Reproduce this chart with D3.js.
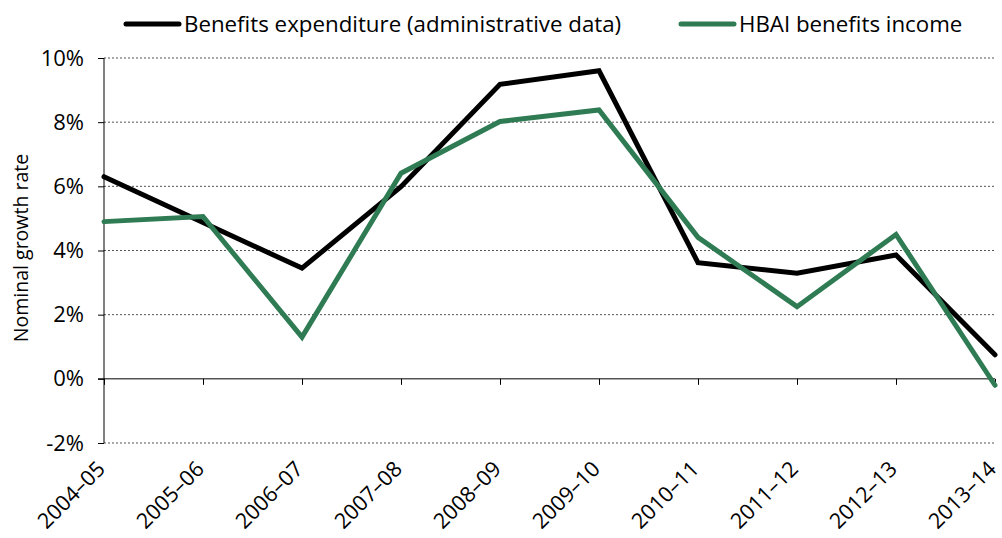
<!DOCTYPE html>
<html>
<head>
<meta charset="utf-8">
<script src="https://cdn.jsdelivr.net/npm/d3@7"></script>
<style>
  html, body { margin: 0; padding: 0; background: #fff; }
  svg { display: block; font-family: "Open Sans", "Noto Sans", sans-serif; }
</style>
</head>
<body>
<svg id="chart" width="1002" height="538"></svg>
<script>
// Financial years on the horizontal axis
const years = ["2004–05", "2005–06", "2006–07", "2007–08", "2008–09",
               "2009–10", "2010–11", "2011–12", "2012–13", "2013–14"];

// Nominal growth rates, per cent
const adminExpenditure = [6.3, 4.87, 3.45, 5.99, 9.18, 9.6, 3.62, 3.29, 3.86, 0.75];
const hbaiIncome       = [4.9, 5.06, 1.3, 6.41, 8.02, 8.38, 4.41, 2.25, 4.5, -0.2];

const seriesNames = ["Benefits expenditure (administrative data)", "HBAI benefits income"];
const seriesColors = ["#000000", "#2f7b53"];

const yTicks = [-2, 0, 2, 4, 6, 8, 10];
const yTitle = "Nominal growth rate";

const svg = d3.select("#chart");
const margin = { left: 104, right: 995, top: 58, bottom: 443 };

const x = d3.scalePoint().domain(years).range([margin.left, margin.right]);
const y = d3.scaleLinear().domain([-2, 10]).range([margin.bottom, margin.top]);

// Horizontal dotted gridlines
svg.append("g")
  .selectAll("line")
  .data(yTicks.filter(d => d !== 0))
  .join("line")
  .attr("x1", margin.left)
  .attr("x2", margin.right)
  .attr("y1", d => y(d))
  .attr("y2", d => y(d))
  .attr("stroke", "#555")
  .attr("stroke-width", 1)
  .attr("stroke-dasharray", "2,2");

// Y axis
const yAxis = svg.append("g")
  .attr("transform", `translate(${margin.left},0)`)
  .call(d3.axisLeft(y).tickValues(yTicks).tickSize(6).tickPadding(14)
    .tickFormat(d => d + "%"));
yAxis.select(".domain").attr("stroke", "#000").attr("d", `M0,${y(10)}V${y(-2)}`);
yAxis.selectAll(".tick line").attr("stroke", "#000");
yAxis.selectAll(".tick text")
  .attr("font-size", 22)
  .attr("fill", "#000")
  .attr("font-family", "'Open Sans', sans-serif");

// X axis along zero
const xAxis = svg.append("g")
  .attr("transform", `translate(0,${y(0)})`)
  .call(d3.axisBottom(x).tickSize(6).tickSizeOuter(0));
xAxis.select(".domain").attr("stroke", "#000").attr("d", `M${margin.left - 6},0H${margin.right}`);
xAxis.selectAll(".tick line").attr("stroke", "#000");
xAxis.selectAll(".tick text").remove();

// Rotated category labels below the chart
svg.append("g")
  .selectAll("text")
  .data(years)
  .join("text")
  .attr("transform", d => `translate(${x(d) - 3},${y(-2) + 22}) rotate(-45)`)
  .attr("text-anchor", "end")
  .attr("dy", "0.35em")
  .attr("font-size", 21.5)
  .attr("fill", "#000")
  .text(d => d);

// Axis title
svg.append("text")
  .attr("transform", `translate(28,248) rotate(-90)`)
  .attr("text-anchor", "middle")
  .attr("font-size", 19.5)
  .attr("fill", "#000")
  .text(yTitle);

// Lines
const line = d3.line().x((d, i) => x(years[i])).y(d => y(d));
[adminExpenditure, hbaiIncome].forEach((vals, k) => {
  svg.append("path")
    .datum(vals)
    .attr("fill", "none")
    .attr("stroke", seriesColors[k])
    .attr("stroke-width", 5)
    .attr("stroke-linejoin", "miter")
    .attr("stroke-linecap", "round")
    .attr("d", line);
});

// Legend
const legendItems = [
  { x: 126, text: seriesNames[0], color: seriesColors[0] },
  { x: 681, text: seriesNames[1], color: seriesColors[1] }
];
const lg = svg.append("g").selectAll("g").data(legendItems).join("g")
  .attr("transform", d => `translate(${d.x},24)`);
lg.append("line")
  .attr("x1", 0).attr("x2", 53)
  .attr("stroke", d => d.color)
  .attr("stroke-width", 5)
  .attr("stroke-linecap", "round");
lg.append("text")
  .attr("x", 58)
  .attr("dy", "0.35em")
  .attr("font-size", 22.3)
  .attr("fill", "#000")
  .text(d => d.text);
</script>
</body>
</html>
